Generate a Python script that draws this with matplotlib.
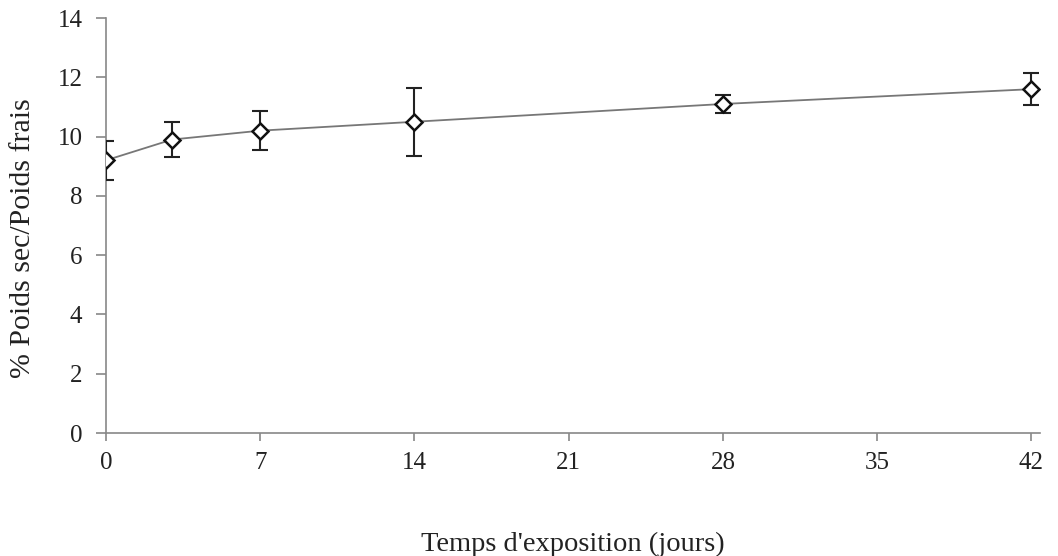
import matplotlib
matplotlib.use("Agg")
import matplotlib.pyplot as plt

days = [0, 3, 7, 14, 28, 42]
ratio = [9.2, 9.9, 10.2, 10.5, 11.1, 11.6]
err = [0.65, 0.6, 0.65, 1.15, 0.3, 0.55]
xticks = [0, 7, 14, 21, 28, 35, 42]
yticks = [0, 2, 4, 6, 8, 10, 12, 14]

plt.rcParams['font.family'] = ['Liberation Serif', 'DejaVu Serif']

fig = plt.figure(figsize=(10.58, 5.56), dpi=100)
ax = fig.add_axes([0.1002, 0.2212, 0.883, 0.7464])

ax.plot(days, ratio, color='#777777', lw=1.3, zorder=2)
ax.errorbar(days, ratio, yerr=err, fmt='none', ecolor='#222222',
            elinewidth=1.5, capsize=5.5, capthick=1.5, zorder=3)
ax.plot(days, ratio, ls='none', marker='D', ms=8, mfc='white',
        mec='#111111', mew=1.8, zorder=4)

ax.set_xlim(0, 42.4)
ax.set_ylim(0, 14)
ax.set_xticks(xticks)
ax.set_yticks(yticks)
ax.spines['top'].set_visible(False)
ax.spines['right'].set_visible(False)
for s in ('left', 'bottom'):
    ax.spines[s].set_color('#888888')
    ax.spines[s].set_linewidth(1.2)
ax.tick_params(axis='both', direction='out', color='#888888', width=1.2,
               labelsize=18, labelcolor='#222222')
ax.tick_params(axis='y', length=7, pad=10)
ax.tick_params(axis='x', length=6, pad=8)

ax.set_xlabel("Temps d'exposition (jours)", fontsize=20.5, color='#222222', labelpad=41)
ax.set_ylabel("% Poids sec/Poids frais", fontsize=21.5, color='#222222')
ax.yaxis.set_label_coords(-0.075, 0.47)

fig.savefig('out.png', dpi=100)
